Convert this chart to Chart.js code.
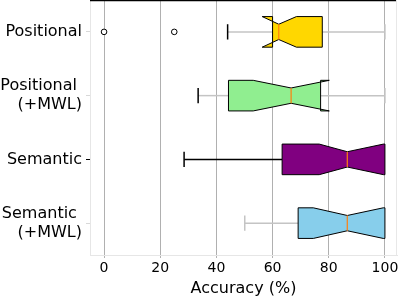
<!DOCTYPE html>
<html>
<head>
<meta charset="utf-8">
<script src="https://cdn.jsdelivr.net/npm/chart.js@4"></script>
<style>
    html, body { margin: 0; padding: 0; background: #fff; }
    canvas { display: block; }
</style>
</head>
<body>
<canvas id="accuracyChart" width="400" height="298"></canvas>
<script>
// data
const categories = [['Positional'], ['Positional ', '(+MWL)'], ['Semantic'], ['Semantic ', '(+MWL)']];
const whiskerLow = [44, 33.5, 28.5, 50.1];
const q1 = [60, 44.3, 63.4, 69.1];
const median = [62.2, 66.6, 86.6, 86.6];
const q3 = [77.7, 77.1, 100, 100];
const whiskerHigh = [100, 100, 100, 100];
const notchLow = [56.3, 53.1, 76.6, 74.5];
const notchHigh = [68.5, 80.2, 99.5, 99.4];
const outliers = [[0, 25], [], [], []];
const xTicks = [0, 20, 40, 60, 80, 100];

// styling
const boxColors = ['#ffd700', '#90ee90', '#800080', '#87ceeb'];
const lowLineColors = ['#c4c4c4', '#c4c4c4', '#000000', '#c4c4c4'];
const lowCapColors = ['#000000', '#000000', '#000000', '#c4c4c4'];
const highColors = ['#c4c4c4', '#c4c4c4', '#c4c4c4', '#c4c4c4'];
const fontFamily = '"DejaVu Sans", sans-serif';

const notchedBoxes = {
    id: 'notchedBoxes',
    afterDatasetsDraw(chart) {
        const ctx = chart.ctx;
        const x = chart.scales.x;
        const area = chart.chartArea;
        const bars = chart.getDatasetMeta(0).data;

        ctx.save();

        bars.forEach((bar, i) => {
            const cy = bar.y;
            const h = bar.height;
            const top = cy - h / 2;
            const bot = cy + h / 2;
            const waist = h / 4;
            const cap = h / 4;
            const px = v => x.getPixelForValue(v);

            // whiskers
            ctx.lineWidth = 1.5;
            ctx.strokeStyle = lowLineColors[i];
            ctx.beginPath();
            ctx.moveTo(px(whiskerLow[i]), cy);
            ctx.lineTo(px(q1[i]), cy);
            ctx.stroke();
            ctx.strokeStyle = lowCapColors[i];
            ctx.beginPath();
            ctx.moveTo(px(whiskerLow[i]), cy - cap);
            ctx.lineTo(px(whiskerLow[i]), cy + cap);
            ctx.stroke();

            if (whiskerHigh[i] > q3[i]) {
                ctx.strokeStyle = highColors[i];
                ctx.beginPath();
                ctx.moveTo(px(q3[i]), cy);
                ctx.lineTo(px(whiskerHigh[i]), cy);
                ctx.moveTo(px(whiskerHigh[i]), cy - cap);
                ctx.lineTo(px(whiskerHigh[i]), cy + cap);
                ctx.stroke();
            }

            // notched box
            ctx.beginPath();
            ctx.moveTo(px(q1[i]), top);
            ctx.lineTo(px(notchLow[i]), top);
            ctx.lineTo(px(median[i]), top + waist);
            ctx.lineTo(px(notchHigh[i]), top);
            ctx.lineTo(px(q3[i]), top);
            ctx.lineTo(px(q3[i]), bot);
            ctx.lineTo(px(notchHigh[i]), bot);
            ctx.lineTo(px(median[i]), bot - waist);
            ctx.lineTo(px(notchLow[i]), bot);
            ctx.lineTo(px(q1[i]), bot);
            ctx.closePath();
            ctx.fillStyle = boxColors[i];
            ctx.fill();
            ctx.lineWidth = 1;
            ctx.strokeStyle = '#000';
            ctx.stroke();

            // median
            ctx.strokeStyle = '#ff7f0e';
            ctx.lineWidth = 1.2;
            ctx.beginPath();
            ctx.moveTo(px(median[i]), top + waist);
            ctx.lineTo(px(median[i]), bot - waist);
            ctx.stroke();

            // fliers
            outliers[i].forEach(v => {
                ctx.beginPath();
                ctx.arc(px(v), cy, 2.8, 0, Math.PI * 2);
                ctx.fillStyle = '#fff';
                ctx.fill();
                ctx.strokeStyle = '#000';
                ctx.lineWidth = 1;
                ctx.stroke();
            });
        });

        // frame: dark top edge, faint right edge
        ctx.strokeStyle = '#000';
        ctx.lineWidth = 1.2;
        ctx.beginPath();
        ctx.moveTo(area.left, area.top + 0.6);
        ctx.lineTo(area.right, area.top + 0.6);
        ctx.stroke();
        ctx.strokeStyle = '#e8e8e8';
        ctx.lineWidth = 1;
        ctx.beginPath();
        ctx.moveTo(area.right - 0.5, area.top);
        ctx.lineTo(area.right - 0.5, area.bottom);
        ctx.stroke();

        ctx.restore();
    }
};

new Chart(document.getElementById('accuracyChart'), {
    type: 'bar',
    data: {
        labels: categories,
        datasets: [{
            data: q1.map((v, i) => [v, q3[i]]),
            backgroundColor: 'rgba(0,0,0,0)',
            borderWidth: 0,
            categoryPercentage: 1,
            barPercentage: 0.48
        }]
    },
    options: {
        indexAxis: 'y',
        responsive: false,
        animation: false,
        layout: { padding: { top: 0, right: 3, left: 0, bottom: 0 } },
        plugins: {
            legend: { display: false },
            tooltip: { enabled: false }
        },
        scales: {
            x: {
                min: -5,
                max: 104.3,
                afterBuildTicks: scale => {
                    scale.ticks = xTicks.map(v => ({ value: v }));
                },
                afterFit: scale => {
                    scale.height = 43;
                    scale.paddingLeft = 0;
                    scale.paddingRight = 0;
                },
                grid: {
                    color: '#b0b0b0',
                    lineWidth: 1,
                    tickLength: 3,
                    tickColor: '#b0b0b0'
                },
                border: { color: '#e6e6e6' },
                ticks: {
                    color: '#000',
                    padding: 2,
                    font: { family: fontFamily, size: 14 }
                },
                title: {
                    display: true,
                    text: 'Accuracy (%)',
                    color: '#000',
                    padding: { top: 2, bottom: 0 },
                    font: { family: fontFamily, size: 16 }
                }
            },
            y: {
                afterFit: scale => {
                    scale.width = 90;
                    scale.paddingTop = 0;
                    scale.paddingBottom = 0;
                },
                grid: {
                    offset: false,
                    drawOnChartArea: false,
                    tickLength: 4,
                    tickColor: c => c.index === 2 ? '#000' : '#d8d8d8'
                },
                border: { color: '#e6e6e6' },
                ticks: {
                    color: '#000',
                    padding: 4,
                    font: { family: fontFamily, size: 16 }
                }
            }
        }
    },
    plugins: [notchedBoxes]
});
</script>
</body>
</html>
